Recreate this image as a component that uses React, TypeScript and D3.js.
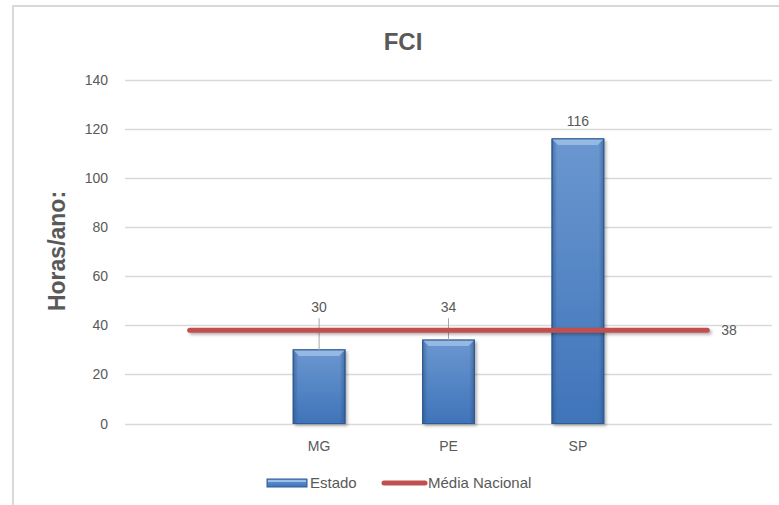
import React, { useEffect, useRef } from 'react';
import * as d3 from 'd3';

const categories = ['', 'MG', 'PE', 'SP', ''];
const estado: (number | null)[] = [null, 30, 34, 116, null];
const mediaNacional = [38, 38, 38, 38, 38];
const yTicks = [0, 20, 40, 60, 80, 100, 120, 140];

const W = 779;
const H = 505;

export default function App() {
  const svgRef = useRef<SVGSVGElement>(null);

  useEffect(() => {
    if (!svgRef.current) return;
    const svg = d3.select(svgRef.current);
    svg.selectAll('*').remove();

    const font = '"Liberation Sans", Arial, sans-serif';
    const textColor = '#595959';
    const plot = { left: 125, right: 772, top: 80, bottom: 423.5 };

    const x = d3.scalePoint<number>()
      .domain(categories.map((_, i) => i))
      .range([plot.left, plot.right])
      .padding(0.5);
    const step = x.step();
    const barW = step * 0.4;

    const y = d3.scaleLinear().domain([0, 140]).range([plot.bottom, plot.top]);

    const defs = svg.append('defs');
    const grad = defs.append('linearGradient')
      .attr('id', 'barFill').attr('x1', 0).attr('y1', 0).attr('x2', 0).attr('y2', 1);
    grad.append('stop').attr('offset', '0%').attr('stop-color', '#6b97cf');
    grad.append('stop').attr('offset', '100%').attr('stop-color', '#3f74ba');

    const side = defs.append('linearGradient')
      .attr('id', 'barSide').attr('x1', 0).attr('y1', 0).attr('x2', 1).attr('y2', 0);
    side.append('stop').attr('offset', '0%').attr('stop-color', '#2d5286').attr('stop-opacity', 0.55);
    side.append('stop').attr('offset', '10%').attr('stop-color', '#2d5286').attr('stop-opacity', 0);
    side.append('stop').attr('offset', '90%').attr('stop-color', '#2d5286').attr('stop-opacity', 0);
    side.append('stop').attr('offset', '100%').attr('stop-color', '#2d5286').attr('stop-opacity', 0.55);

    const shadow = defs.append('filter').attr('id', 'shadow')
      .attr('filterUnits', 'userSpaceOnUse')
      .attr('x', 0).attr('y', 0).attr('width', W).attr('height', H);
    shadow.append('feDropShadow')
      .attr('dx', 2).attr('dy', 2).attr('stdDeviation', 1.5)
      .attr('flood-color', '#000').attr('flood-opacity', 0.3);

    // chart frame
    svg.append('rect')
      .attr('x', 13).attr('y', 6).attr('width', 900).attr('height', 700)
      .attr('fill', '#fff').attr('stroke', '#d9d9d9').attr('stroke-width', 2);

    // title
    svg.append('text')
      .attr('x', 403).attr('y', 50)
      .attr('text-anchor', 'middle')
      .attr('font-family', font).attr('font-weight', 'bold').attr('font-size', 24)
      .attr('fill', textColor)
      .text('FCI');

    // y axis title
    svg.append('text')
      .attr('transform', `translate(65,251) rotate(-90)`)
      .attr('text-anchor', 'middle')
      .attr('font-family', font).attr('font-weight', 'bold').attr('font-size', 23)
      .attr('fill', textColor)
      .text('Horas/ano:');

    // gridlines + tick labels
    const grid = svg.append('g');
    yTicks.forEach(t => {
      grid.append('line')
        .attr('x1', plot.left).attr('x2', plot.right)
        .attr('y1', Math.round(y(t)) + 0.5).attr('y2', Math.round(y(t)) + 0.5)
        .attr('stroke', '#d9d9d9').attr('stroke-width', 1.5);
      grid.append('text')
        .attr('x', 108).attr('y', y(t) + 5)
        .attr('text-anchor', 'end')
        .attr('font-family', font).attr('font-size', 14)
        .attr('fill', textColor)
        .text(String(t));
    });

    // category labels
    categories.forEach((c, i) => {
      if (!c) return;
      svg.append('text')
        .attr('x', x(i)!).attr('y', 451)
        .attr('text-anchor', 'middle')
        .attr('font-family', font).attr('font-size', 14)
        .attr('fill', textColor)
        .text(c);
    });

    // bars
    const bars = svg.append('g');
    estado.forEach((v, i) => {
      if (v == null) return;
      const bx = x(i)! - barW / 2;
      const by = y(v);
      const bh = y(0) - by;
      const g = bars.append('g');
      g.append('rect')
        .attr('x', bx).attr('y', by).attr('width', barW).attr('height', bh)
        .attr('fill', 'url(#barFill)')
        .attr('stroke', '#2f5b93').attr('stroke-width', 1)
        .attr('filter', 'url(#shadow)');
      g.append('rect')
        .attr('x', bx).attr('y', by).attr('width', barW).attr('height', bh)
        .attr('fill', 'url(#barSide)');
      const bev = Math.min(6, bh / 3);
      g.append('path')
        .attr('d', `M${bx},${by} L${bx + barW},${by} L${bx + barW - bev},${by + bev} L${bx + bev},${by + bev} Z`)
        .attr('fill', '#9cbfe8').attr('opacity', 0.85);
      g.append('rect')
        .attr('x', bx).attr('y', by).attr('width', barW).attr('height', bh)
        .attr('fill', 'none').attr('stroke', '#2f5b93').attr('stroke-width', 1);
    });

    // data labels for bars
    estado.forEach((v, i) => {
      if (v == null) return;
      const cx = x(i)!;
      const top = y(v);
      const labelY = v < 60 ? y(38) - 18 : top - 13;
      if (v < 60) {
        svg.append('line')
          .attr('x1', cx).attr('x2', cx)
          .attr('y1', labelY + 6).attr('y2', top)
          .attr('stroke', '#a6a6a6').attr('stroke-width', 1);
      }
      svg.append('text')
        .attr('x', cx).attr('y', labelY)
        .attr('text-anchor', 'middle')
        .attr('font-family', font).attr('font-size', 14)
        .attr('fill', textColor)
        .text(String(v));
    });

    // media nacional line
    const line = d3.line<number>()
      .x((_, i) => x(i)!)
      .y(d => y(d));
    svg.append('path')
      .datum(mediaNacional)
      .attr('d', line)
      .attr('fill', 'none')
      .attr('stroke', '#c0504d').attr('stroke-width', 5)
      .attr('stroke-linecap', 'round')
      .attr('filter', 'url(#shadow)');

    const last = mediaNacional.length - 1;
    svg.append('text')
      .attr('x', x(last)! + 14).attr('y', y(mediaNacional[last]) + 5)
      .attr('font-family', font).attr('font-size', 14)
      .attr('fill', textColor)
      .text(String(mediaNacional[last]));

    // legend
    const lg = svg.append('g');
    const ly = 483;
    lg.append('rect')
      .attr('x', 267).attr('y', ly - 4).attr('width', 40).attr('height', 8)
      .attr('fill', 'url(#barFill)').attr('stroke', '#2f5b93').attr('stroke-width', 1);
    lg.append('rect')
      .attr('x', 268).attr('y', ly - 3).attr('width', 38).attr('height', 2)
      .attr('fill', '#9cbfe8');
    lg.append('text')
      .attr('x', 310).attr('y', ly + 5)
      .attr('font-family', font).attr('font-size', 15)
      .attr('fill', textColor)
      .text('Estado');
    lg.append('line')
      .attr('x1', 384).attr('x2', 425).attr('y1', ly).attr('y2', ly)
      .attr('stroke', '#c0504d').attr('stroke-width', 5).attr('stroke-linecap', 'round');
    lg.append('text')
      .attr('x', 428).attr('y', ly + 5)
      .attr('font-family', font).attr('font-size', 15)
      .attr('fill', textColor)
      .text('Média Nacional');
  }, []);

  return (
    <svg
      ref={svgRef}
      width={W}
      height={H}
      style={{ position: 'absolute', left: 0, top: 0, background: '#fff' }}
    />
  );
}
